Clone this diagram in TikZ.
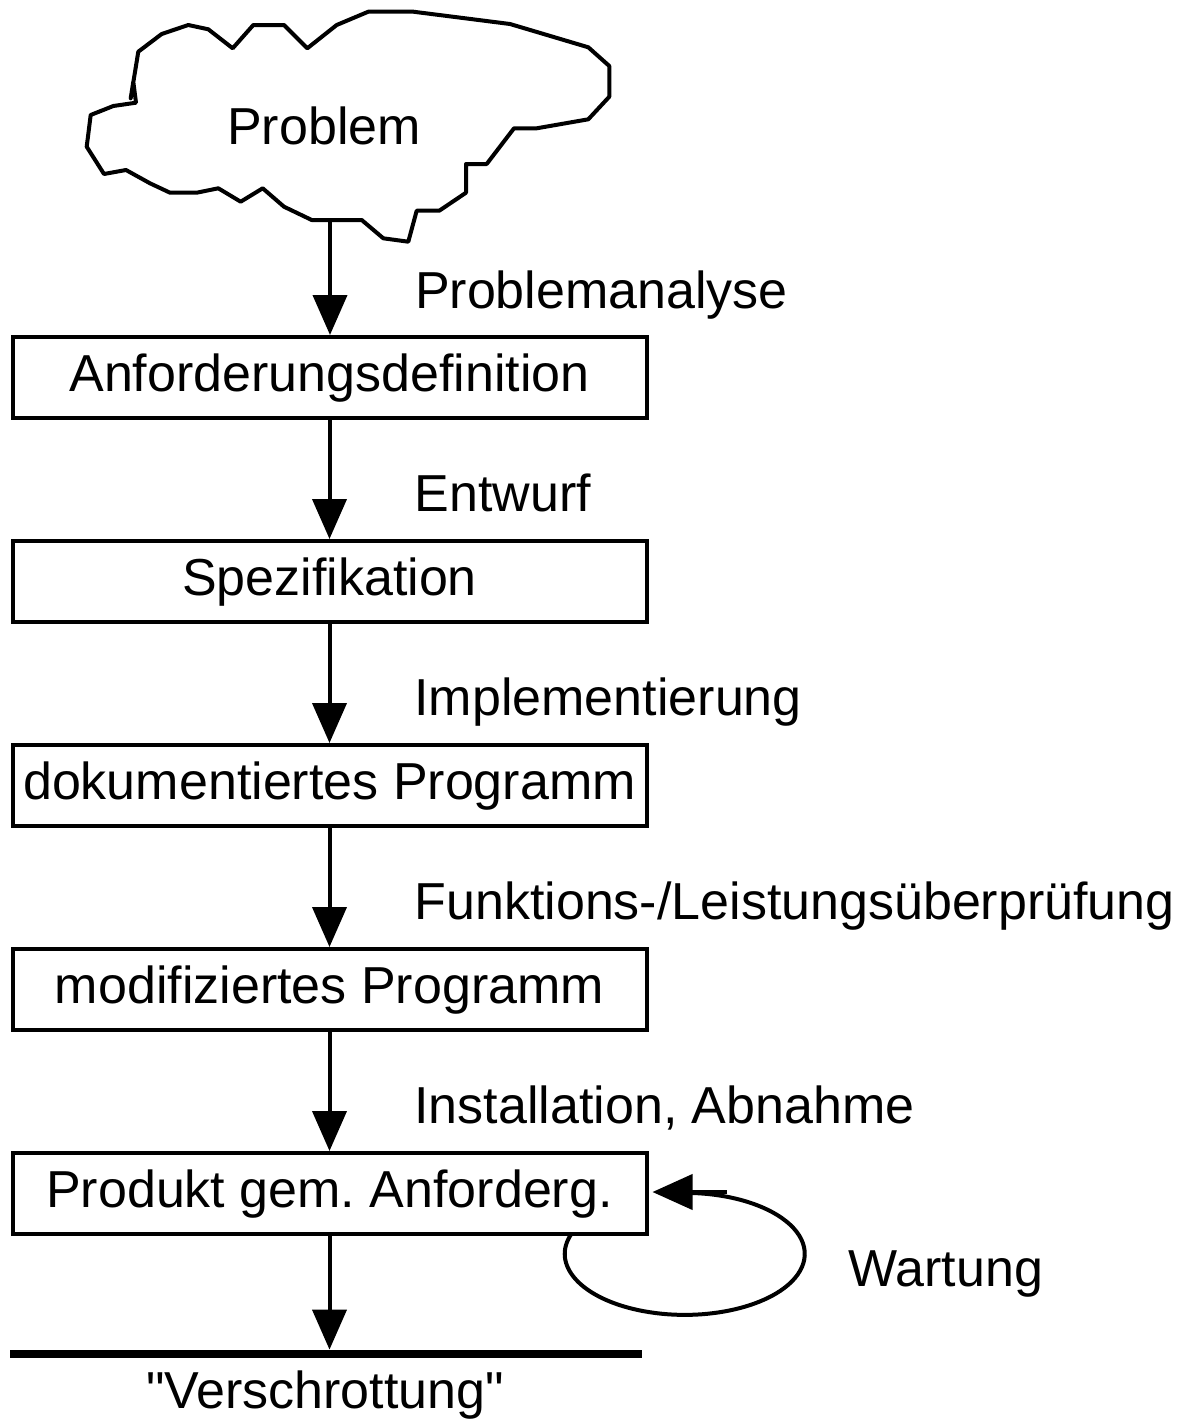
\documentclass[tikz,border=0pt]{standalone}
\usepackage{fontspec}
\setmainfont{Liberation Sans}
\usetikzlibrary{arrows.meta, positioning}
\frenchspacing

\begin{document}
\begin{tikzpicture}[x=0.5pt, y=-0.5pt, node distance=102pt, font=\fontsize{26}{31}\selectfont,
  phase/.style={rectangle, draw, line width=2pt, minimum width=317pt, minimum height=40.5pt, inner sep=0pt, text height=19.5pt, text depth=5.5pt},
  pfeil/.style={line width=2pt, -{Triangle[length=20pt, width=17pt]}},
  taetigkeit/.style={pos=0.77, anchor=base west, inner sep=0pt, xshift=41.5pt}]
\useasboundingbox (0,0) rectangle (1189,1419);

\draw[line width=2pt, line join=round] (138.3,51.7) -- (161.7,34) -- (188.3,25) -- (208.3,29.3) -- (232.7,48.3) -- (253.3,25) -- (284,25) -- (307.3,48.3) -- (336.7,25) -- (368.3,11.7) -- (413.3,11.7) -- (510,24) -- (588.3,47.3) -- (609.3,66) -- (609.3,96.7) -- (588.3,119.3) -- (536.7,128.3) -- (514,128.3) -- (486.7,164) -- (466,164) -- (466,192.7) -- (439.3,210.7) -- (416.7,210.7) -- (408.3,241.7) -- (383.3,238.3) -- (361.7,220) -- (311.7,220) -- (284,206.7) -- (262.7,188.3) -- (240.7,201.7) -- (218.3,188.3) -- (196.7,192.7) -- (170,192.7) -- (150,183.3) -- (126,170) -- (104,174) -- (86.7,146.7) -- (90.7,115) -- (113.3,106) -- (136,102.7) -- (133.3,81.7) -- (130.7,98.3) -- cycle;
\node (problem) at (324,126) {Problem};
\coordinate (wolke) at (330,220);

\node (anf) [phase] at (329.5,377.5) {Anforderungsdefinition};
\node (spez) [phase, below of=anf] {Spezifikation};
\node (prog) [phase, below of=spez] {dokumentiertes Programm};
\node (mod) [phase, below of=prog] {modifiziertes Programm};
\node (prod) [phase, below of=mod] {Produkt gem. Anforderg.};
\node (schrott) [fill, minimum width=316pt, minimum height=4pt, inner sep=0pt] at (326,1354) {};
\node (ende) [anchor=base] at (325,1408) {\textquotedbl Verschrottung\textquotedbl};

\draw[pfeil] (wolke) -- node[taetigkeit] {Problemanalyse} (wolke |- anf.north);
\draw[pfeil] (anf) -- node[taetigkeit] {Entwurf} (spez);
\draw[pfeil] (spez) -- node[taetigkeit] {Implementierung} (prog);
\draw[pfeil] (prog) -- node[taetigkeit] {Funktions-/Leistungsüberprüfung} (mod);
\draw[pfeil] (mod) -- node[taetigkeit] {Installation, Abnahme} (prod);
\draw[pfeil] (prod) -- (prod |- schrott.north);

\coordinate (wstart) at (572,1233);
\coordinate (wende) at (727,1192);
\draw[line width=2pt] (wstart) arc[start angle=200, end angle=-90, x radius=120, y radius=61];
\draw[line width=2pt, -{Triangle[length=20pt, width=17.5pt]}] (wende) -- ([xshift=2pt]prod.east |- wende);
\node (wartung) [anchor=base west, inner sep=0pt] at (848,1286) {Wartung};
\end{tikzpicture}
\end{document}
